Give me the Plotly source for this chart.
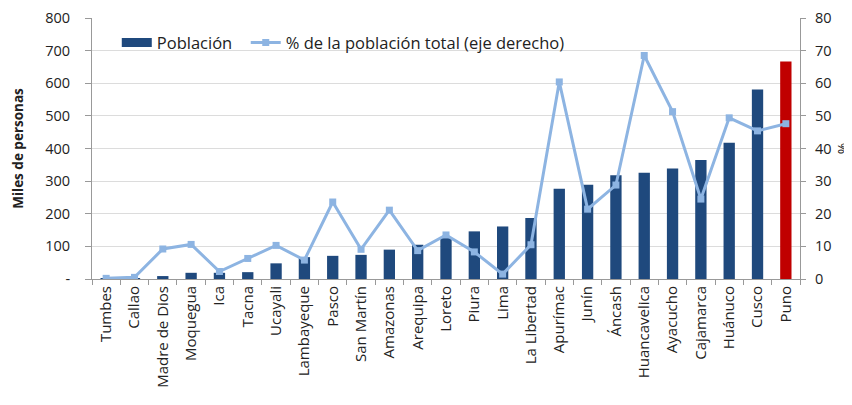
import plotly.graph_objects as go

regions = ["Tumbes", "Callao", "Madre de Dios", "Moquegua", "Ica", "Tacna", "Ucayali",
           "Lambayeque", "Pasco", "San Martín", "Amazonas", "Arequipa", "Loreto", "Piura",
           "Lima", "La Libertad", "Apurímac", "Junín", "Áncash", "Huancavelica", "Ayacucho",
           "Cajamarca", "Huánuco", "Cusco", "Puno"]
poblacion = [1, 3, 9, 19, 19, 21, 48, 67, 71, 74, 90, 105, 127, 146,
             161, 187, 277, 289, 318, 326, 339, 365, 418, 581, 667]
porcentaje = [0.2, 0.5, 9.2, 10.6, 2.3, 6.3, 10.3, 5.8, 23.6, 9.1, 21.1, 8.7, 13.5, 8.3,
              1.5, 10.5, 60.4, 21.4, 28.8, 68.5, 51.3, 24.5, 49.4, 45.4, 47.6]
left_ticks = [0, 100, 200, 300, 400, 500, 600, 700, 800]
left_labels = ["-", "100", "200", "300", "400", "500", "600", "700", "800"]
right_ticks = [0, 10, 20, 30, 40, 50, 60, 70, 80]

navy = "#1F497D"
red = "#C00000"
light = "#8DB4E2"
bar_colors = [red if r == "Puno" else navy for r in regions]

FONT = "Open Sans"

fig = go.Figure()
# legend proxy for Población (wide rectangle like the original)
fig.add_trace(go.Scatter(x=[regions[0]], y=[None], name="Población\u00a0\u00a0", mode="lines",
                         line=dict(color=navy, width=9), showlegend=True, yaxis="y"))
fig.add_trace(go.Bar(x=regions, y=poblacion, name="Población", showlegend=False,
                     marker=dict(color=bar_colors, line=dict(width=0)), yaxis="y"))
fig.add_trace(go.Scatter(x=regions, y=porcentaje, name="% de la población total (eje derecho)",
                         mode="lines+markers", yaxis="y2",
                         line=dict(color=light, width=3),
                         marker=dict(symbol="square", size=7, color=light)))

fig.update_layout(
    width=844, height=397,
    margin=dict(l=84, r=52, t=10, b=126),
    paper_bgcolor="white", plot_bgcolor="white",
    font=dict(family=FONT, size=15, color="#222"),
    bargap=0.6,
    showlegend=True,
    legend=dict(orientation="h", x=0.035, y=0.905, xanchor="left", yanchor="middle",
                bgcolor="rgba(0,0,0,0)", font=dict(size=16.5), traceorder="normal",
                itemwidth=30, tracegroupgap=0),
    xaxis=dict(type="category", range=[-0.5, 24.5], tickangle=-90, showgrid=False,
               automargin=False,
               ticks="outside", tickson="boundaries", ticklen=5, tickcolor="#999",
               showline=True, linecolor="#999", linewidth=1,
               tickfont=dict(size=15)),
    yaxis=dict(range=[0, 800], tickvals=left_ticks, ticktext=left_labels, automargin=False,
               showgrid=True, gridcolor="#dcdcdc", gridwidth=1,
               ticks="outside", ticklen=6, tickcolor="#999", ticklabelstandoff=12,
               ticklabeloverflow="allow",
               showline=True, linecolor="#999", zeroline=False,
               title=dict(text="<b>Miles de personas</b>", font=dict(size=13.5), standoff=18),
               tickfont=dict(size=14.5)),
    yaxis2=dict(range=[0, 80], tickvals=right_ticks, overlaying="y", side="right",
                automargin=False, ticklabeloverflow="allow", ticklabelstandoff=6,
                showgrid=False, ticks="outside", ticklen=5, tickcolor="#999",
                showline=True, linecolor="#999", zeroline=False,
                title=dict(text="%", font=dict(size=14), standoff=8),
                tickfont=dict(size=14.5)),
)

fig.write_html("out.html")
